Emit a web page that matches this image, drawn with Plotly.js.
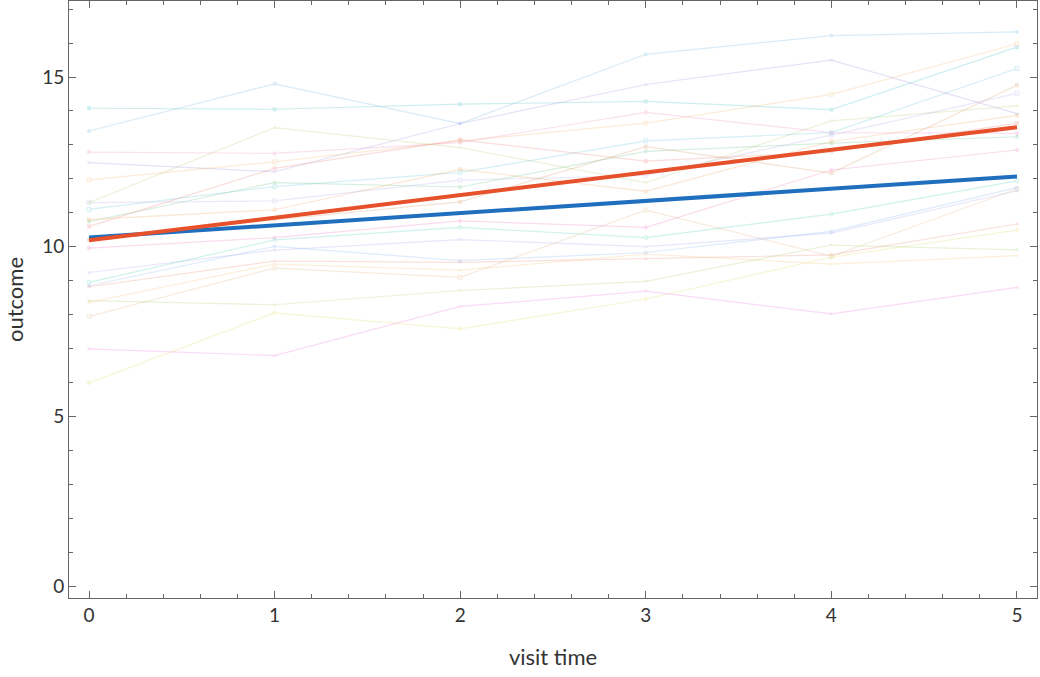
<!DOCTYPE html>
<html>
<head>
<meta charset="utf-8">
<script src="https://cdn.plot.ly/plotly-3.0.1.min.js"></script>
<style>
  html, body { margin: 0; padding: 0; background: #fff; }
  #chart { width: 1040px; height: 677px; }
</style>
</head>
<body>
<div id="chart"></div>
<script>
var visits = [0, 1, 2, 3, 4, 5];

// one row per subject, outcome at visits 0..5
var subjects = [
  [14.08, 14.05, 14.20, 14.28, 14.04, 15.88],
  [13.41, 14.80, 13.63, 15.67, 16.22, 16.33],
  [12.48, 12.21, 13.63, 14.78, 15.50, 13.92],
  [12.79, 12.75, 13.07, 13.96, 13.36, 13.34],
  [11.97, 12.50, 13.12, 13.64, 14.49, 15.98],
  [11.30, 13.51, 12.92, 11.89, 13.71, 14.15],
  [11.10, 11.77, 12.19, 13.12, 13.36, 15.25],
  [10.74, 11.89, 11.76, 12.81, 13.05, 13.24],
  [10.60, 12.31, 13.15, 12.52, 12.80, 13.64],
  [10.80, 11.09, 12.28, 11.63, 13.10, 13.87],
  [11.30, 11.35, 11.96, 12.10, 13.29, 14.52],
  [10.20, 10.80, 11.32, 12.95, 12.17, 14.76],
  [9.96, 10.27, 10.76, 10.57, 12.26, 12.85],
  [9.24, 9.90, 10.21, 10.00, 10.40, 11.65],
  [8.95, 10.20, 10.57, 10.27, 10.96, 11.94],
  [8.85, 10.01, 9.59, 9.83, 10.45, 11.74],
  [8.82, 9.58, 9.54, 9.64, 9.76, 10.67],
  [8.36, 9.49, 9.31, 9.78, 9.49, 9.74],
  [7.95, 9.37, 9.10, 11.08, 9.72, 11.70],
  [8.41, 8.29, 8.71, 8.98, 10.05, 9.91],
  [5.99, 8.05, 7.58, 8.46, 9.69, 10.49],
  [6.99, 6.79, 8.24, 8.69, 8.02, 8.80]
];

var fitVisits = [0, 5];
var populationFit = [10.27, 12.07];
var groupFit = [10.19, 13.52];

var subjectColors = [
  '#3fbfc2', '#6ab2e2', '#9c8ce2', '#f08cc4', '#f5b466', '#b4d070',
  '#5cc6da', '#62c084', '#f07a7a', '#f2a452', '#b2aaea', '#d6955e',
  '#f074c2', '#a4a4f2', '#44ceb2', '#84b2f2', '#f08474', '#f8c272',
  '#e2b282', '#aad064', '#e2de5e', '#f074e2'
];
var symbols = ['square', 'circle', 'triangle-down', 'diamond', 'square-open', 'triangle-up',
  'square-open', 'circle', 'square', 'square', 'square-open', 'square',
  'diamond', 'triangle-down', 'circle-open', 'circle', 'triangle-up', 'triangle-down',
  'square-open', 'triangle-up', 'diamond', 'triangle-up'];

var data = [];
for (var i = 0; i < subjects.length; i++) {
  data.push({
    x: visits,
    y: subjects[i],
    type: 'scatter',
    mode: 'lines+markers',
    opacity: 0.25,
    line: { color: subjectColors[i], width: 1.2 },
    marker: { color: subjectColors[i], size: 4, symbol: symbols[i] },
    hoverinfo: 'skip'
  });
}

data.push({
  x: fitVisits, y: populationFit, type: 'scatter', mode: 'lines',
  line: { color: '#1f6fbe', width: 4 }
});
data.push({
  x: fitVisits, y: groupFit, type: 'scatter', mode: 'lines',
  line: { color: '#e6502a', width: 4 }
});

var axisFont = { family: 'Lato, "Open Sans", sans-serif', size: 19, color: '#333' };
var titleFont = { family: axisFont.family, size: 22, color: '#333' };

var layout = {
  width: 1040,
  height: 677,
  showlegend: false,
  paper_bgcolor: '#fff',
  plot_bgcolor: '#fff',
  margin: { l: 69, r: 3, t: 1, b: 79 },
  font: axisFont,
  xaxis: {
    range: [-0.108, 5.108],
    dtick: 1,
    showgrid: false,
    zeroline: false,
    showline: true,
    linecolor: '#666',
    linewidth: 1,
    mirror: 'allticks',
    ticks: 'inside',
    ticklen: 7,
    tickcolor: '#666',
    tickfont: axisFont,
    minor: { dtick: 0.2, ticks: 'inside', ticklen: 4, tickcolor: '#666' },
    title: { text: 'visit time', font: titleFont, standoff: 24 }
  },
  yaxis: {
    range: [-0.35, 17.24],
    dtick: 5,
    showgrid: false,
    zeroline: false,
    showline: true,
    linecolor: '#666',
    linewidth: 1,
    mirror: 'allticks',
    ticks: 'inside',
    ticklen: 7,
    tickcolor: '#666',
    tickfont: axisFont,
    minor: { dtick: 1, ticks: 'inside', ticklen: 4, tickcolor: '#666' },
    title: { text: 'outcome', font: titleFont, standoff: 12 }
  }
};

Plotly.newPlot('chart', data, layout, { displayModeBar: false, staticPlot: true });
</script>
</body>
</html>
